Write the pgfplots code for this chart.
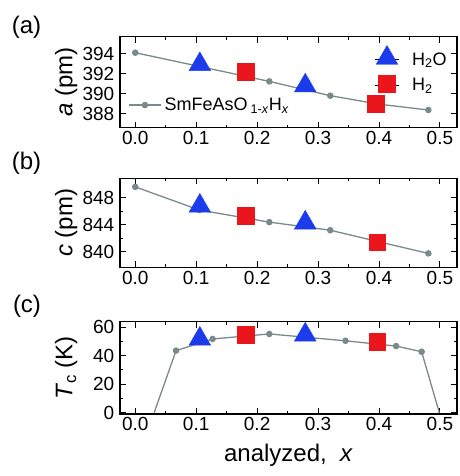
\documentclass[border=0pt]{standalone}
\usepackage{fontspec}
\setmainfont{Liberation Sans}
\usepackage{pgfplots}
\pgfplotsset{compat=1.18}

\definecolor{cgrey}{RGB}{122,138,138}
\definecolor{cblue}{RGB}{28,60,235}
\definecolor{cred}{RGB}{235,22,28}
\newcommand{\tickfont}{\fontsize{19}{19}\selectfont}
\newcommand{\labfont}{\fontsize{24}{24}\selectfont}
\newcommand{\legfont}{\fontsize{18}{18}\selectfont}

\pgfplotsset{
  panel/.style={
    scale only axis, width=337pt,
    xmin=-0.025, xmax=0.528,
    xtick={0,0.1,0.2,0.3,0.4,0.5}, minor x tick num=1,
    tick align=inside, major tick length=6pt, minor tick length=3pt,
    every tick/.style={black, line width=1pt},
    axis line style={line width=1.2pt},
    /pgf/number format/assume math mode=true,
    ticklabel style={font=\tickfont},
    xticklabel style={inner sep=0pt, yshift=-3.5pt,
      /pgf/number format/fixed, /pgf/number format/fixed zerofill,
      /pgf/number format/precision=1},
    yticklabel style={inner sep=0pt, xshift=-5.5pt},
    every axis y label/.style={at={(axis description cs:-0.16,0.5)},
      rotate=90, anchor=center, font=\labfont},
    legend style={draw=none, fill=none, inner sep=0pt, font=\legfont},
  },
  grey/.style={cgrey, line width=1.3pt, mark=*, mark size=2.6pt},
  tri/.style={only marks, mark=triangle*, mark size=12.5pt,
    mark options={draw=cblue, fill=cblue, line width=0.4pt}},
  sq/.style={only marks, mark=square*, mark size=8.3pt,
    mark options={draw=cred, fill=cred, line width=0.4pt}},
}

\begin{document}
\begin{tikzpicture}
\useasboundingbox (0,0) rectangle (459pt,-476pt);

\node[font=\labfont] at (26.5pt,-27.5pt) {(a)};
\node[font=\labfont] at (26.5pt,-163.5pt) {(b)};
\node[font=\labfont] at (27pt,-306pt) {(c)};

% (a) lattice parameter a
\begin{axis}[panel, at={(120pt,-36.7pt)}, anchor=north west, height=91pt,
  ymin=386.6, ymax=395.7, ytick={388,390,392,394},
  ylabel={\textit{a} (pm)},
  legend image code/.code={\draw[mark repeat=2, mark phase=2, #1]
    plot coordinates {(0pt,0pt) (16pt,0pt) (32pt,0pt)};},
  legend style={at={(axis description cs:0.024,0.249)}, anchor=west,
    nodes={inner sep=3pt}},
]
\addplot[grey] coordinates {(0,394.1) (0.105,392.73) (0.22,391.23) (0.32,389.8) (0.40,388.95) (0.481,388.37)};
\addlegendentry{SmFeAsO\,\textsubscript{1-\textit{x}}H\textsubscript{\textit{x}}}
\end{axis}
\begin{axis}[panel, at={(120pt,-36.7pt)}, anchor=north west, height=91pt,
  ymin=386.6, ymax=395.7, hide axis,
  legend image code/.code={\path (-12pt,0pt) -- (12pt,0pt);
    \draw[#1] plot coordinates {(0pt,1.5pt)};},
  legend style={at={(axis description cs:0.97,0.905)}, anchor=north east,
    row sep=9pt, nodes={inner sep=0pt},
    /tikz/every odd column/.style={column sep=13pt}},
  legend cell align=left,
]
\addplot[tri] coordinates {(0.106,392.93) (0.279,390.8)};
\addlegendentry{H\textsubscript{2}O}
\addplot[sq] coordinates {(0.181,392.2) (0.395,388.98)};
\addlegendentry{H\textsubscript{2}}
\end{axis}

% (b) lattice parameter c
\begin{axis}[panel, at={(120pt,-178.3pt)}, anchor=north west, height=89pt,
  ymin=837.7, ymax=850.9, ytick={840,844,848}, minor y tick num=1,
  ylabel={\textit{c} (pm)},
]
\addplot[grey] coordinates {(0,849.63) (0.105,846.2) (0.22,844.4) (0.32,843.2) (0.40,841.48) (0.481,839.76)};
\addplot[tri] coordinates {(0.106,846.8) (0.279,844.3)};
\addplot[sq] coordinates {(0.181,845.36) (0.397,841.4)};
\end{axis}

% (c) Tc
\begin{axis}[panel, at={(120pt,-321.7pt)}, anchor=north west, height=92.3pt,
  ymin=-0.9, ymax=63.9, ytick={0,20,40,60}, minor y tick num=1,
  ylabel={\textit{T}\textsubscript{c} (K)},
  xlabel={analyzed,\ \ \textit{x}},
  every axis x label/.style={at={(axis description cs:0.5,-0.51)},
    anchor=base, font=\labfont},
]
\addplot[grey, mark indices={2,3,4,5,6,7}] coordinates {(0.031,0) (0.067,43.6) (0.127,51.8) (0.22,55.3) (0.345,50.5) (0.428,46.8) (0.47,42.8) (0.499,0)};
\addplot[tri] coordinates {(0.106,51.8) (0.279,54.7)};
\addplot[sq] coordinates {(0.181,54.7) (0.397,49.9)};
\end{axis}
\end{tikzpicture}
\end{document}
